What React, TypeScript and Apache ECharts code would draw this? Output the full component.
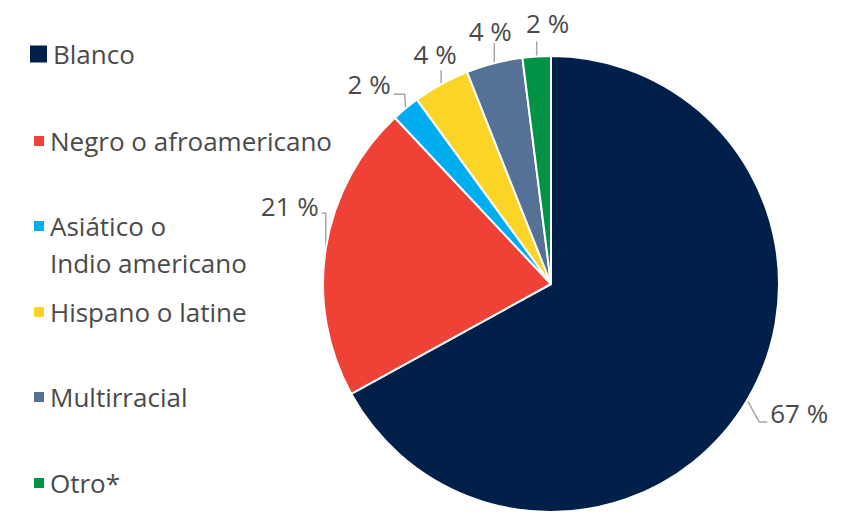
import React, { useEffect, useRef } from "react";
import * as echarts from "echarts";

const categories = [
  "Blanco",
  "Negro o afroamericano",
  "Asiático o Indio americano",
  "Hispano o latine",
  "Multirracial",
  "Otro*",
];
const legendTexts = [
  "{t|Blanco}",
  "{t|Negro o afroamericano}",
  "{e| }\n{t|Asiático o}\n{t|Indio americano}",
  "{t|Hispano o latine}",
  "{t|Multirracial}",
  "{t|Otro*}",
];
const values = [67, 21, 2, 4, 4, 2];
const colors = ["#00204A", "#EF4136", "#00AEEF", "#FBD526", "#557196", "#009245"];

// legend marker centre (y) for each item
const legendCenters = [54, 141, 226, 312, 397, 483];

// leader layout relative to the slice edge point: [bendDx, bendDy, endDx, endDy, labelDx, labelDy, align]
const leaderLayout: [number, number, number, number, number, number, string][] = [
  [12, 22, 20, 22, 3, -9, "left"],
  [0, -35, -4, -35, -3, -7, "right"],
  [-1, -14, -12, -14, -3, -10, "right"],
  [0, -14, 0, -14, -6, -16, "center"],
  [0, -20, 0, -20, -4, -12, "center"],
  [0, -15, 0, -15, 11, -18, "center"],
];

const FONT = "'Open Sans', 'Noto Sans', sans-serif";
const TEXT_COLOR = "#4A4A4A";
const LH = 37;

export default function App() {
  const ref = useRef<HTMLDivElement>(null);

  useEffect(() => {
    document.body.style.margin = "0";
    if (!ref.current) return;
    const chart = echarts.init(ref.current, null, { renderer: "svg" });

    const legends = categories.map((name, i) => {
      const big = i === 0;
      const twoLine = i === 2;
      const boxHalf = twoLine ? (LH * 3) / 2 : LH / 2;
      return {
        orient: "vertical",
        left: big ? 28 : 32,
        top: legendCenters[i] - boxHalf,
        padding: 0,
        itemWidth: big ? 19 : 12,
        itemHeight: big ? 19 : 12,
        icon: "rect",
        selectedMode: false,
        data: [name],
        formatter: () => legendTexts[i],
        textStyle: {
          fontFamily: FONT,
          fontSize: 26,
          color: TEXT_COLOR,
          lineHeight: LH,
          rich: {
            t: { fontFamily: FONT, fontSize: 26, color: TEXT_COLOR, lineHeight: LH },
            e: { fontFamily: FONT, fontSize: 26, lineHeight: LH },
          },
        },
      };
    });

    chart.setOption({
      animation: false,
      color: colors,
      legend: legends,
      series: [
        {
          type: "pie",
          center: [551, 284],
          radius: 228,
          startAngle: 90,
          clockwise: true,
          avoidLabelOverlap: false,
          itemStyle: { borderColor: "#ffffff", borderWidth: 2 },
          label: {
            show: true,
            position: "outside",
            formatter: "{c} %",
            fontFamily: FONT,
            fontSize: 26,
            color: TEXT_COLOR,
          },
          labelLine: {
            show: true,
            length: 15,
            length2: 10,
            lineStyle: { color: "#A6A6A6", width: 1.5 },
          },
          labelLayout: (params: any) => {
            const pts = params.labelLinePoints;
            if (!pts) return {};
            const p0 = pts[0];
            const l = leaderLayout[params.dataIndex];
            const bend = [p0[0] + l[0], p0[1] + l[1]];
            const end = [p0[0] + l[2], p0[1] + l[3]];
            return {
              x: end[0] + l[4],
              y: end[1] + l[5],
              align: l[6],
              verticalAlign: "middle",
              labelLinePoints: [p0, bend, end],
            };
          },
          data: categories.map((name, i) => ({ name, value: values[i] })),
        },
      ],
    });

    return () => chart.dispose();
  }, []);

  return <div ref={ref} style={{ width: 844, height: 516 }} />;
}
